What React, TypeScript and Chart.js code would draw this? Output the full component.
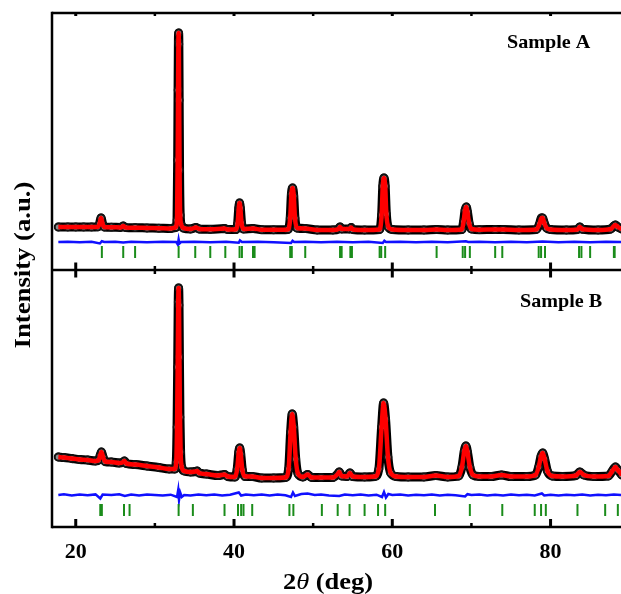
import React, { useEffect, useRef } from "react";
import { Chart, registerables } from "chart.js";

Chart.register(...registerables);

// ---------------- data ----------------
const X_MIN = 17;
const X_MAX = 88.9;
const X_MAJOR_TICKS = [20, 40, 60, 80];
const X_MINOR_TICKS = [30, 50, 70];

const PANEL_LABELS = ["Sample A", "Sample B"];
const X_TITLE = ["2", "\u03B8", " (deg)"];
const Y_TITLE = "Intensity (a.u.)";

// Sample A: [2theta, intensity] (observed profile, also used for fitted curve)
const SAMPLE_A_PROFILE: [number, number][] = [
  [17.8, 43], [19, 43], [20, 43], [21, 43], [22, 43], [22.8, 43.2], [23.0, 46], [23.2, 52], [23.4, 46], [23.6, 43],
  [24.5, 42.8], [25.7, 42.6], [26.0, 44], [26.3, 42.5], [27.5, 42.3], [29, 42], [30.5, 41.8], [32, 41.5], [32.6, 42.5],
  [32.8, 50], [32.88, 110], [32.93, 180], [32.97, 228], [33.0, 237], [33.03, 226], [33.07, 170], [33.12, 100], [33.2, 55],
  [33.35, 45], [33.6, 42], [34.5, 41], [35.2, 42.5], [35.6, 41], [37, 40.7], [38.8, 41.5], [39.2, 40.5], [40.2, 40.5],
  [40.45, 46], [40.6, 62], [40.7, 67], [40.8, 62], [40.95, 47], [41.2, 41], [42.4, 41.5], [43.5, 40.3], [45, 40.2],
  [46.8, 40.5], [47.1, 52], [47.25, 76], [47.4, 82], [47.55, 74], [47.7, 52], [47.95, 42], [49, 41.5], [50.5, 40],
  [52.5, 40], [53.2, 41], [53.4, 43], [53.6, 41], [54.6, 41], [54.8, 42.5], [55.0, 40.5], [56.5, 40], [58.4, 40.5],
  [58.65, 55], [58.8, 84], [58.95, 92], [59.1, 84], [59.25, 56], [59.5, 43], [60, 40.5], [62, 40], [64, 40], [65.6, 40.5],
  [67, 40], [68.8, 40.5], [69.0, 48], [69.2, 60], [69.35, 63], [69.5, 58], [69.7, 47], [70, 41], [71, 40.3], [73, 40.5],
  [74, 40.5], [76, 40], [78.2, 40.5], [78.6, 46], [78.85, 52], [79.0, 52], [79.2, 47], [79.5, 42], [80, 40.5], [82, 40],
  [83.4, 40.5], [83.7, 43], [84.0, 40.8], [86, 40], [87.6, 41], [88.0, 44], [88.2, 45], [88.5, 43], [89, 41],
];

// Sample B: [2theta, intensity]
const SAMPLE_B_PROFILE: [number, number][] = [
  [17.8, 70], [18.5, 69.5], [19.5, 68.5], [20.5, 67.5], [21.5, 67], [22.5, 66], [22.9, 67], [23.1, 72], [23.25, 75],
  [23.45, 70], [23.7, 65.5], [24.5, 65], [25.5, 64], [25.9, 64.5], [26.15, 66], [26.4, 63.5], [27.5, 62.5], [29, 61],
  [30.5, 59.5], [31.8, 58], [32.5, 58], [32.7, 65], [32.8, 100], [32.88, 160], [32.95, 225], [33.0, 239], [33.05, 222],
  [33.1, 170], [33.17, 110], [33.25, 75], [33.4, 60], [33.7, 56], [34.5, 55], [35.1, 55.5], [35.35, 56], [35.6, 54],
  [36.5, 53], [38, 51.5], [38.8, 52.5], [39.2, 50.5], [40.1, 50], [40.4, 58], [40.6, 75], [40.72, 79], [40.85, 73],
  [41.05, 57], [41.4, 50.5], [42.3, 50.5], [43.5, 49], [45, 49], [46.5, 49.5], [46.9, 58], [47.15, 95], [47.35, 113],
  [47.55, 100], [47.8, 68], [48.1, 53], [48.7, 50], [49.3, 52.5], [49.8, 49.5], [51, 49.5], [52.5, 49.5], [53.1, 53],
  [53.3, 55], [53.6, 51], [54.3, 50.5], [54.65, 54], [55.0, 50.5], [56.5, 50], [57.8, 50.5], [58.3, 58], [58.65, 100],
  [58.9, 124], [59.15, 108], [59.45, 70], [59.8, 54], [60.5, 50.5], [62, 50], [64, 50], [65.5, 51.5], [67, 50],
  [68.4, 51], [68.8, 60], [69.1, 76], [69.3, 81], [69.5, 75], [69.8, 60], [70.2, 52], [71, 50.5], [72.5, 50.5],
  [73.8, 52], [75, 50.5], [77, 50.5], [78.1, 52], [78.5, 60], [78.8, 71], [79.0, 74], [79.25, 68], [79.6, 56],
  [80.2, 51], [81.5, 50.5], [83.2, 51.5], [83.7, 55], [84.2, 52], [85.5, 50.5], [87.3, 51], [87.8, 56], [88.2, 60],
  [88.5, 57], [89, 52],
];

// Difference curves (obs - calc)
const SAMPLE_A_DIFF: [number, number][] = [
  [17.8, 0], [19, 0.3], [20.5, -0.2], [22, 0.2], [23.05, -1.5], [23.3, 0.8], [23.6, 0], [25, 0.2], [26, -0.5], [27, 0.2],
  [29, -0.2], [31, 0.2], [32.7, 0], [32.9, -2.5], [33.0, 2.5], [33.1, -1.5], [33.3, 0], [35, 0.2], [37, -0.2], [39, 0.2],
  [40.6, -0.8], [40.75, 1.5], [41, 0], [43, 0.2], [45, -0.2], [47.2, -1], [47.4, 1.2], [47.6, 0], [49, 0.2], [51, -0.2],
  [53, 0.2], [55, -0.2], [57, 0.2], [58.8, -1], [59.0, 1.2], [59.2, 0], [61, 0.2], [63, -0.2], [65, 0.2], [67, -0.2],
  [69.3, 0.8], [69.6, 0], [71, 0.2], [73, -0.2], [75, 0.2], [77, -0.2], [79, 0.5], [81, -0.2], [83, 0.2], [85, -0.2],
  [87, 0.2], [89, 0],
];

const SAMPLE_B_DIFF: [number, number][] = [
  [17.8, 0], [18.5, 0.8], [19.5, -0.5], [20.5, 0.5], [21.5, -0.3], [22.5, 0.6], [23.1, -3.5], [23.4, 0.5], [24.5, 0],
  [25.5, 0.7], [26.2, -1], [27, 0.5], [28, -0.5], [29, 0.6], [30, 0], [31, -0.6], [32, 0.3], [32.8, -2], [32.95, 5],
  [33.05, -5], [33.2, 2.5], [33.4, -2], [33.7, 0], [34.5, -0.5], [35.5, 0.5], [36.5, -0.3], [37.5, 0.4], [38.5, -0.5],
  [39.5, 0.3], [40.6, 2.5], [40.9, -0.5], [41.5, 0.5], [42.5, -0.3], [43.5, 0.4], [44.5, -0.4], [45.5, 0.5], [46.5, -0.3],
  [47.2, -2], [47.45, 2.5], [47.7, -1], [48.5, 1], [49.3, 1.5], [50.2, 0], [51, 0.4], [52, -0.4], [53.3, -1], [54, 0.5],
  [55, -0.3], [56, 0.4], [57, -0.4], [58, 0.3], [58.7, -2], [58.95, 3], [59.2, -2.5], [59.5, 1], [60, 0], [61, 0.4],
  [62, -0.4], [63, 0.3], [64, -0.3], [65, 0.4], [66, -0.4], [67, 0.3], [68, -0.3], [69.2, -1.5], [69.5, 0.8], [70, 0],
  [71, 0.4], [72, -0.4], [73, 0.3], [74, -0.4], [75, 0.4], [76, -0.3], [77, 0.3], [78, -0.4], [78.9, 1.5], [79.2, -0.5],
  [80, 0.3], [81, -0.4], [82, 0.3], [83, -0.3], [84, 0.4], [85, -0.4], [86, 0.3], [87, -0.3], [88, 0.4], [89, 0],
];

// Bragg reflection positions
const SAMPLE_A_BRAGG = [
  23.3, 26.0, 27.5, 33.0, 35.1, 37.0, 38.9, 40.7, 41.0, 42.4, 42.6, 47.1, 47.3, 49.0, 53.4, 53.6, 54.7, 54.9,
  58.4, 58.6, 59.1, 65.6, 68.9, 69.2, 69.8, 73.0, 73.9, 78.5, 78.8, 79.3, 83.6, 83.9, 85.0, 88.0, 88.1,
];
const SAMPLE_B_BRAGG = [
  23.1, 23.3, 26.1, 26.8, 33.0, 34.8, 38.8, 40.5, 40.9, 41.2, 42.3, 47.0, 47.5, 51.1, 53.1, 54.6, 56.5, 58.2,
  59.1, 65.4, 69.8, 73.9, 78.0, 78.8, 79.4, 83.4, 86.9, 88.5,
];

// ---------------- styling ----------------
const FONT = '"Liberation Serif", "Times New Roman", serif';
const PANEL_RANGE = 257;
const DIFF_BASE = [28, 32];
const BRAGG_LEVEL = [18, 17];

const toXY = (pairs: [number, number][], off = 0) => pairs.map(([x, y]) => ({ x, y: y + off }));

function panelDatasets(profile: [number, number][], diff: [number, number][], bragg: number[], axis: string, i: number) {
  return [
    {
      label: "obs",
      data: toXY(profile),
      yAxisID: axis,
      borderColor: "#000",
      borderWidth: 9,
      borderJoinStyle: "round",
      borderCapStyle: "round",
      cubicInterpolationMode: "monotone",
      pointRadius: 3.5,
      pointBorderWidth: 1.8,
      pointBorderColor: "#111",
      pointBackgroundColor: "#8a8a8a",
      order: 4,
    },
    {
      label: "calc",
      data: toXY(profile),
      yAxisID: axis,
      borderColor: "#ff0000",
      borderWidth: 4.5,
      borderJoinStyle: "round",
      cubicInterpolationMode: "monotone",
      pointRadius: 0,
      order: 3,
    },
    {
      label: "diff",
      data: toXY(diff, DIFF_BASE[i]),
      yAxisID: axis,
      borderColor: "#1010ff",
      borderWidth: 2.5,
      pointRadius: 0,
      order: 2,
    },
    {
      label: "bragg",
      data: bragg.map((x) => ({ x, y: BRAGG_LEVEL[i] })),
      yAxisID: axis,
      showLine: false,
      pointStyle: "line",
      pointRotation: 90,
      pointRadius: 6,
      pointBorderWidth: 2,
      pointBorderColor: "#1a8c1a",
      pointBackgroundColor: "#1a8c1a",
      order: 1,
    },
  ];
}

function stretchedText(ctx: any, text: string, x: number, y: number, sx: number) {
  ctx.save();
  ctx.translate(x, y);
  ctx.scale(sx, 1);
  ctx.fillText(text, 0, 0);
  ctx.restore();
}

const framePlugin = {
  id: "frame",
  afterDatasetsDraw(chart: any) {
    const { ctx, chartArea, scales } = chart;
    const { left, right, top, bottom } = chartArea;
    const xs = scales.x;
    const mid = scales.yA.bottom;
    ctx.save();
    ctx.strokeStyle = "#000";
    ctx.lineWidth = 2.5;
    ctx.beginPath();
    ctx.moveTo(left, top);
    ctx.lineTo(right, top);
    ctx.moveTo(left, mid);
    ctx.lineTo(right, mid);
    ctx.moveTo(left, bottom);
    ctx.lineTo(right, bottom);
    ctx.stroke();
    ctx.lineCap = "square";
    ctx.beginPath();
    ctx.moveTo(left, top);
    ctx.lineTo(left, bottom);
    ctx.stroke();
    ctx.lineCap = "butt";
    const drawTick = (v: number, major: boolean) => {
      const px = xs.getPixelForValue(v);
      ctx.lineWidth = major ? 3 : 2.5;
      ctx.beginPath();
      ctx.moveTo(px, top);
      ctx.lineTo(px, top + 3);
      const h = major ? 7.5 : 4;
      ctx.moveTo(px, mid - h);
      ctx.lineTo(px, mid + h);
      ctx.moveTo(px, bottom);
      ctx.lineTo(px, bottom - (major ? 8 : 4));
      ctx.stroke();
    };
    X_MAJOR_TICKS.forEach((v) => drawTick(v, true));
    X_MINOR_TICKS.forEach((v) => drawTick(v, false));

    // panel labels
    ctx.fillStyle = "#000";
    ctx.font = `bold 19px ${FONT}`;
    ctx.textBaseline = "middle";
    ctx.textAlign = "left";
    stretchedText(ctx, PANEL_LABELS[0], 507, 43, 1.06);
    stretchedText(ctx, PANEL_LABELS[1], 520, 302, 1.06);

    // y title
    ctx.save();
    ctx.translate(24, 265);
    ctx.rotate(-Math.PI / 2);
    ctx.scale(1.16, 1);
    ctx.font = `bold 23px ${FONT}`;
    ctx.textAlign = "center";
    ctx.textBaseline = "middle";
    ctx.fillText(Y_TITLE, 0, 0);
    ctx.restore();

    // x title with italic theta
    const sx = 1.15;
    const fonts = [`bold 23px ${FONT}`, `italic 23px ${FONT}`, `bold 23px ${FONT}`];
    let total = 0;
    const widths = X_TITLE.map((t, k) => {
      ctx.font = fonts[k];
      const w = ctx.measureText(t).width * sx;
      total += w;
      return w;
    });
    let cx = 328 - total / 2;
    ctx.textAlign = "left";
    ctx.textBaseline = "alphabetic";
    X_TITLE.forEach((t, k) => {
      ctx.font = fonts[k];
      stretchedText(ctx, t, cx, 589, sx);
      cx += widths[k];
    });
    ctx.restore();
  },
};

export default function App() {
  const ref = useRef<HTMLCanvasElement>(null);
  useEffect(() => {
    if (!ref.current) return;
    const chart = new Chart(ref.current, {
      type: "line",
      data: {
        datasets: [
          ...panelDatasets(SAMPLE_A_PROFILE, SAMPLE_A_DIFF, SAMPLE_A_BRAGG, "yA", 0),
          ...panelDatasets(SAMPLE_B_PROFILE, SAMPLE_B_DIFF, SAMPLE_B_BRAGG, "yB", 1),
        ] as any,
      },
      options: {
        animation: false,
        responsive: false,
        events: [],
        layout: { autoPadding: false, padding: { left: 52, top: 13, right: 0, bottom: 0 } },
        plugins: { legend: { display: false }, tooltip: { enabled: false } },
        scales: {
          x: {
            type: "linear",
            min: X_MIN,
            max: X_MAX,
            grid: { display: false, drawTicks: false },
            border: { display: false },
            ticks: {
              stepSize: 20,
              includeBounds: false,
              padding: 12,
              color: "#000",
              font: { family: FONT, size: 22, weight: "bold" },
              maxRotation: 0,
            },
            afterFit: (s: any) => {
              s.height = 67;
              s.paddingLeft = 0;
              s.paddingRight = 0;
            },
          },
          yB: {
            type: "linear",
            position: "left",
            stack: "panels",
            stackWeight: 1,
            min: 0,
            max: PANEL_RANGE,
            display: false,
          },
          yA: {
            type: "linear",
            position: "left",
            stack: "panels",
            stackWeight: 1,
            min: 0,
            max: PANEL_RANGE,
            display: false,
          },
        },
      } as any,
      plugins: [framePlugin],
    });
    return () => chart.destroy();
  }, []);
  return (
    <div style={{ position: "absolute", left: 0, top: 0, width: 621, height: 594, background: "#fff" }}>
      <canvas ref={ref} width={621} height={594} style={{ display: "block" }} />
    </div>
  );
}
